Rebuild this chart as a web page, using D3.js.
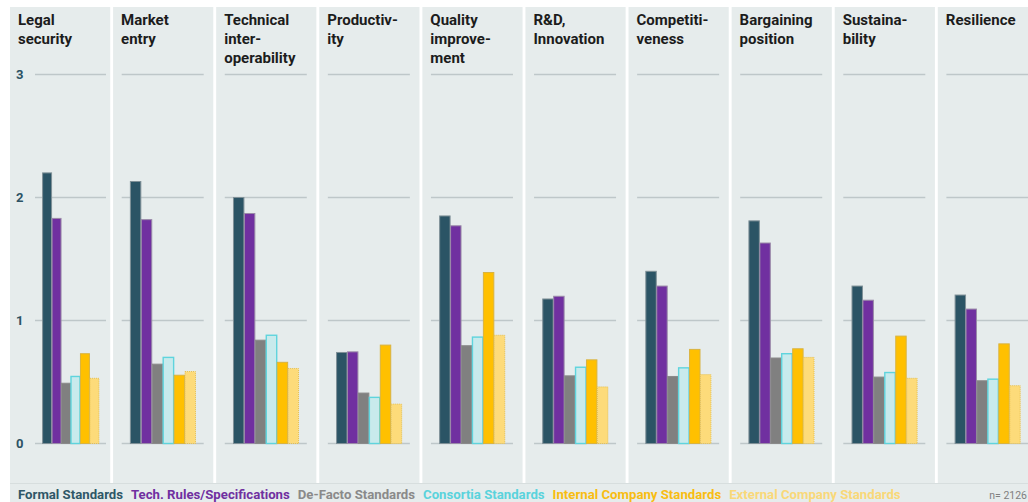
<!DOCTYPE html>
<html>
<head>
<meta charset="utf-8">
<script src="https://cdn.jsdelivr.net/npm/d3@7/dist/d3.min.js"></script>
<style>
  html, body { margin: 0; padding: 0; background: #ffffff; }
  svg { display: block; font-family: Roboto, "Noto Sans", sans-serif; }
</style>
</head>
<body>
<svg id="chart" width="1028" height="502"></svg>
<script>
// Benefit categories (one panel each) with their wrapped titles
const categories = ["Legal security", "Market entry", "Technical interoperability", "Productivity",
  "Quality improvement", "R&D, Innovation", "Competitiveness", "Bargaining position",
  "Sustainability", "Resilience"];
const titleLines = [["Legal", "security"], ["Market", "entry"], ["Technical", "inter-", "operability"],
  ["Productiv-", "ity"], ["Quality", "improve-", "ment"], ["R&D,", "Innovation"],
  ["Competiti-", "veness"], ["Bargaining", "position"], ["Sustaina-", "bility"], ["Resilience"]];

// Standard types (bars within each panel)
const seriesNames = ["Formal Standards", "Tech. Rules/Specifications", "De-Facto Standards",
  "Consortia Standards", "Internal Company Standards", "External Company Standards"];

// Mean rating per category for each standard type
const formalStandards   = [2.20, 2.13, 2.00, 0.74, 1.85, 1.175, 1.40, 1.81, 1.28, 1.207];
const techRules         = [1.83, 1.82, 1.87, 0.745, 1.77, 1.197, 1.28, 1.63, 1.165, 1.093];
const deFactoStandards  = [0.49, 0.645, 0.84, 0.41, 0.795, 0.55, 0.545, 0.695, 0.54, 0.51];
const consortiaStandards= [0.545, 0.70, 0.88, 0.375, 0.865, 0.62, 0.615, 0.73, 0.577, 0.523];
const internalStandards = [0.73, 0.555, 0.66, 0.80, 1.39, 0.68, 0.765, 0.77, 0.873, 0.81];
const externalStandards = [0.53, 0.585, 0.61, 0.32, 0.88, 0.46, 0.56, 0.70, 0.53, 0.47];

const yTicks = [0, 1, 2, 3];
const sampleNote = "n= 2126";

const seriesValues = [formalStandards, techRules, deFactoStandards, consortiaStandards,
  internalStandards, externalStandards];

const styles = [
  { fill: "#2b5465", stroke: "#7f9097", dash: null, text: "#2f5767", sw: 1 },
  { fill: "#7030a0", stroke: "#9a8aa8", dash: null, text: "#7030a0", sw: 1 },
  { fill: "#808080", stroke: "#8a8a8a", dash: null, text: "#8a8a8a", sw: 1 },
  { fill: "#c8eaec", stroke: "#5fd4dd", dash: null, text: "#5ad3dc", sw: 1.4 },
  { fill: "#ffc000", stroke: "#d9b340", dash: null, text: "#f8bd12", sw: 1 },
  { fill: "#fddb7a", stroke: "#e6bf4e", dash: "1,1", text: "#f9d879", sw: 1 }
];

const svg = d3.select("#chart");
const W = 1028, H = 502;
const panelTop = 7, panelBottom = 483;
const panelBg = "#e6ecec";

// Panel columns
const px = d3.scaleBand().domain(categories).range([10, 1038]).paddingInner(0.028).paddingOuter(0);
const y = d3.scaleLinear().domain([0, 3]).range([443.5, 74.5]);

// legend band
svg.append("rect").attr("x", 10).attr("y", panelBottom).attr("width", W - 10).attr("height", H - panelBottom)
  .attr("fill", panelBg);
svg.append("line").attr("x1", 10).attr("x2", W).attr("y1", panelBottom + 0.5).attr("y2", panelBottom + 0.5)
  .attr("stroke", "#d7dede").attr("stroke-width", 1);

const panels = svg.selectAll("g.panel").data(categories).join("g").attr("class", "panel");

panels.each(function (cat, i) {
  const g = d3.select(this);
  const x0 = px(cat);
  const pw = px.bandwidth();
  g.append("rect").attr("x", x0).attr("y", panelTop).attr("width", pw).attr("height", panelBottom - panelTop)
    .attr("fill", panelBg);

  // plot area inside the panel
  const left = i === 0 ? 35 : x0 + 8.6;
  const right = i === 0 ? 106 : x0 + 90.6;

  g.selectAll("line.grid").data(yTicks).join("line").attr("class", "grid")
    .attr("x1", left).attr("x2", right)
    .attr("y1", d => y(d)).attr("y2", d => y(d))
    .attr("stroke", "#bec7c9").attr("stroke-width", 1.6);

  const xb = d3.scaleBand().domain(seriesNames).range([left, right]).paddingInner(0).paddingOuter(0.75);

  g.selectAll("rect.bar").data(seriesNames).join("rect").attr("class", "bar")
    .attr("x", s => xb(s) + 0.5)
    .attr("width", xb.bandwidth() - 0.5)
    .attr("y", (s, k) => y(seriesValues[k][i]))
    .attr("height", (s, k) => y(0) - y(seriesValues[k][i]))
    .attr("fill", (s, k) => styles[k].fill)
    .attr("stroke", (s, k) => styles[k].stroke)
    .attr("stroke-width", (s, k) => styles[k].sw)
    .attr("stroke-dasharray", (s, k) => styles[k].dash);

  // title
  const t = g.append("text").attr("x", x0 + 8).attr("y", 25)
    .attr("font-size", 15).attr("font-weight", 700).attr("fill", "#1c1c1c");
  titleLines[i].forEach((ln, j) => {
    t.append("tspan").attr("x", x0 + 8).attr("y", 25 + j * 19).text(ln);
  });
});

// y-axis labels in the first panel
svg.append("g").selectAll("text").data(yTicks).join("text")
  .attr("x", 16).attr("y", d => y(d) + 4.5)
  .attr("font-size", 13).attr("font-weight", 700).attr("fill", "#2c5264")
  .text(d => d3.format("d")(d));

// legend
let lx = 18;
const legend = svg.append("g");
seriesNames.forEach((name, k) => {
  const tx = legend.append("text").attr("x", lx).attr("y", 499)
    .attr("font-size", 13.2).attr("font-weight", 700).attr("fill", styles[k].text).text(name);
  lx += tx.node().getComputedTextLength() + 8;
});

svg.append("text").attr("x", 1027).attr("y", 499).attr("text-anchor", "end")
  .attr("font-size", 10.5).attr("fill", "#808080").text(sampleNote);
</script>
</body>
</html>
